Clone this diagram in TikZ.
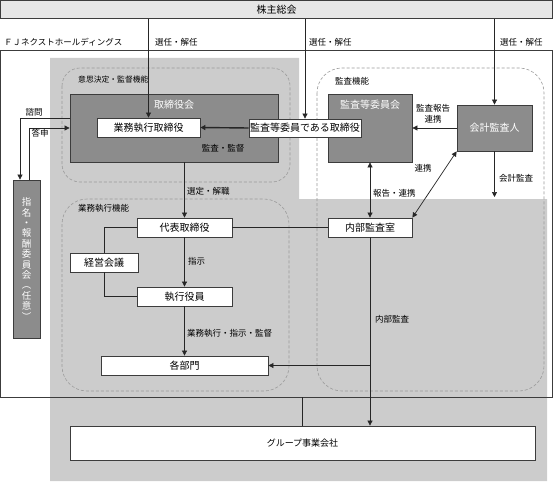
\documentclass[tikz,border=0pt]{standalone}
\usepackage{fontspec}
\setmainfont{Noto Sans CJK JP}
\usetikzlibrary{arrows.meta,calc}
\definecolor{areagray}{HTML}{CCCCCC}
\definecolor{boxgray}{HTML}{8C8C8C}
\definecolor{edgecol}{HTML}{3C3C3C}
\definecolor{barfill}{HTML}{E6E6E6}
\definecolor{dashgray}{HTML}{9A9A9A}
\tikzset{
  whitebox/.style={draw=edgecol, fill=white, line width=0.8pt, inner sep=0pt, font=\fontsize{10}{12}\selectfont},
  graybox/.style={draw=edgecol, fill=boxgray, line width=0.8pt, inner sep=0pt, text=white, font=\fontsize{10}{12}\selectfont},
  lbl/.style={inner sep=0pt, font=\fontsize{8.5}{10}\selectfont},
  wlbl/.style={inner sep=0pt, text=white, font=\fontsize{10}{12}\selectfont},
  conn/.style={draw=black!85, line width=0.7pt},
  arr/.style={conn, -{Triangle[length=5pt,width=5pt]}},
  darr/.style={conn, {Triangle[length=5pt,width=5pt]}-{Triangle[length=5pt,width=5pt]}},
  zone/.style={draw=dashgray, line width=0.6pt, dash pattern=on 3pt off 2pt},
}
\begin{document}
\begin{tikzpicture}[x=1pt,y=-1pt]
\useasboundingbox (0,0) rectangle (553,481);
% outer holdings box (fill)
\node[fill=white, minimum width=552pt, minimum height=346pt, inner sep=0pt] (fj) at (276.5,224) {};
% gray area
\fill[areagray] (50,58) -- (299,58) -- (299,199) -- (547,199) -- (547,481) -- (50,481) -- cycle;
\draw[edgecol, line width=0.7pt] (fj.north west) rectangle (fj.south east);
% shareholders meeting
\node[draw=edgecol, fill=barfill, line width=0.8pt, minimum width=552pt, minimum height=18.5pt, inner sep=0pt, font=\fontsize{10}{12}\selectfont] (top) at (276.5,9.5) {株主総会};
\node[lbl, anchor=west] (fjlbl) at (4,42) {ＦＪネクストホールディングス};
\node[lbl, anchor=west] (sel1) at (155,42) {選任・解任};
\node[lbl, anchor=west] (sel2) at (309,42) {選任・解任};
\node[lbl, anchor=west] (sel3) at (500,42) {選任・解任};
% dashed zones
\draw[zone, rounded corners=18pt] (62,68) rectangle (290,182);
\draw[zone, rounded corners=25pt] (317,68) rectangle (544,391);
\draw[zone, rounded corners=25pt] (62,199) rectangle (289,391);
\node[lbl, anchor=west, font=\fontsize{7.8}{9}\selectfont] (z1) at (78,80) {意思決定・監督機能};
\node[lbl, anchor=west] (z2) at (335,81) {監査機能};
\node[lbl, anchor=west] (z3) at (78,208) {業務執行機能};
% board
\node[graybox, minimum width=208pt, minimum height=68pt] (board) at (174,128) {};
\node[wlbl] (boardlbl) at (174,105) {取締役会};
\node[whitebox, minimum width=103pt, minimum height=19pt] (gyomu) at (148.5,127.5) {業務執行取締役};
\node[lbl] (kansa) at (223,148) {監査・監督};
% audit committee
\node[graybox, minimum width=84pt, minimum height=68pt] (ac) at (370,128) {};
\node[wlbl] (aclbl) at (370,105) {監査等委員会};
\node[whitebox, minimum width=112pt, minimum height=18pt] (acdir) at (305,128) {監査等委員である取締役};
\node[graybox, minimum width=75pt, minimum height=46pt] (auditor) at (494.5,128) {会計監査人};
% nomination committee
\node[graybox, minimum width=27pt, minimum height=158pt, align=center, font=\fontsize{9.5}{10.4}\selectfont] (nom) at (26.5,259) {指\\名\\・\\報\\酬\\委\\員\\会\\︵\\任\\意\\︶};
% execution
\node[whitebox, minimum width=95pt, minimum height=19pt] (ceo) at (184.5,227.5) {代表取締役};
\node[whitebox, minimum width=84pt, minimum height=19pt] (ia) at (370,227.5) {内部監査室};
\node[whitebox, minimum width=68pt, minimum height=19pt] (mgmt) at (104,262.5) {経営会議};
\node[whitebox, minimum width=95pt, minimum height=19pt] (exec) at (184.5,296.5) {執行役員};
\node[whitebox, minimum width=167pt, minimum height=19pt] (dept) at (184.5,365.5) {各部門};
\node[whitebox, minimum width=465pt, minimum height=34pt, font=\fontsize{9}{11}\selectfont] (group) at (302.5,443) {グループ事業会社};
\coordinate (auditEnd) at (494.5,197);
% connectors
\draw[arr] (top.south -| gyomu.north) -- (gyomu.north);
\draw[arr] (top.south -| acdir.north) -- (acdir.north);
\draw[arr] (top.south -| auditor.north) -- (auditor.north);
\draw[arr, line width=1.4pt] (acdir.west) -- (gyomu.east);
\draw[arr] (auditor.west) -- (ac.east);
\node[lbl, align=center, font=\fontsize{8.5}{10.5}\selectfont] (rep) at (433,114) {監査報告\\連携};
\draw[arr] (auditor.south) -- (auditEnd);
\node[lbl, anchor=west] (kaikei) at (499,178) {会計監査};
\draw[darr] (ac.south) -- (ia.north);
\node[lbl, anchor=west] (hok) at (373,193) {報告・連携};
\draw[darr] (ia.north east) -- (auditor.south west);
\node[lbl] (renkei) at (423,168) {連携};
\draw[arr] (ceo.north |- board.south) -- (ceo.north);
\node[lbl, anchor=west] (sentei) at (187,191) {選定・解職};
\draw[conn] (ceo.east) -- (ia.west);
\draw[conn] (ceo.west) -| (mgmt.north);
\draw[conn] (mgmt.south) |- (exec.west);
\draw[arr] (ceo.south) -- (exec.north);
\node[lbl, anchor=west] (shiji) at (188,261) {指示};
\draw[arr] (exec.south) -- (dept.north);
\node[lbl, anchor=west] (gyoshi) at (187,333) {業務執行・指示・監督};
\draw[arr] (ia.south) -- (ia.south |- group.north);
\draw[arr] (ia.south |- dept.east) -- (dept.east);
\node[lbl, anchor=west] (naibu) at (375,319) {内部監査};
\draw[conn] (fj.south -| group.north) -- (group.north);
% consultation
\draw[arr] ([yshift=10pt]board.west) -| ([xshift=-6.5pt]nom.north);
\draw[arr] ([xshift=2.5pt]nom.north) |- (board.west);
\node[lbl] (shimon) at (34,112) {諮問};
\node[lbl] (toshin) at (40,133) {答申};
\end{tikzpicture}
\end{document}
